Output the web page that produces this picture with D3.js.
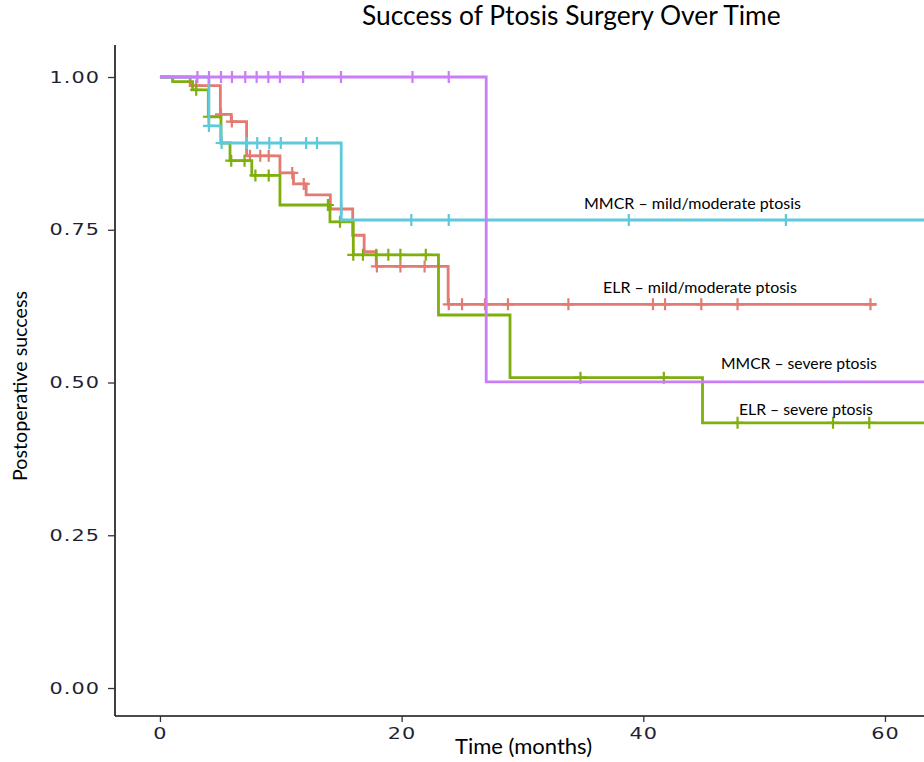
<!DOCTYPE html>
<html><head><meta charset="utf-8">
<script src="https://cdn.jsdelivr.net/npm/d3@7"></script>
<style>body{margin:0;background:#fff;overflow:hidden}svg{display:block}</style>
</head><body><svg id="chart" width="924" height="762"></svg>
<script>
// ---------- data ----------
const groupNames = ["ELR – mild/moderate ptosis", "ELR – severe ptosis", "MMCR – mild/moderate ptosis", "MMCR – severe ptosis"];

const elrMildTimes  = [0, 2.5, 5.0, 5.9, 7.17, 9.93, 11.05, 12.1, 14.1, 15.95, 16.9, 17.9, 23.85];
const elrMildSurv   = [1, 0.986, 0.939, 0.927, 0.871, 0.843, 0.825, 0.807, 0.784, 0.741, 0.714, 0.690, 0.628];
const elrMildCensor = [3, 5.05, 5.95, 7.45, 8.3, 9.0, 10.95, 11.9, 15.0, 17.95, 19.9, 21.9, 23.9, 25.0, 26.9, 28.8, 33.8, 40.8, 41.8, 44.8, 47.8, 58.8];
const elrMildEnd = 59.3;

const elrSevTimes  = [0, 1.05, 2.7, 4.0, 5.05, 5.8, 7.6, 9.93, 14.07, 16.0, 23.05, 28.97, 44.9];
const elrSevSurv   = [1, 0.9925, 0.979, 0.935, 0.892, 0.863, 0.839, 0.7905, 0.763, 0.709, 0.6105, 0.508, 0.434];
const elrSevCensor = [3.0, 4.05, 5.9, 7.0, 7.9, 9.0, 13.9, 14.9, 16.0, 16.8, 17.9, 18.9, 19.9, 22.0, 34.8, 41.7, 47.8, 55.7, 58.7];
const elrSevEnd = 70;

const mmcrMildTimes  = [0, 4.05, 5.05, 15.0];
const mmcrMildSurv   = [1, 0.920, 0.892, 0.766];
const mmcrMildCensor = [4.05, 5.1, 7.2, 8.05, 9.05, 10.0, 12.1, 13.0, 20.8, 23.9, 38.8, 51.8];
const mmcrMildEnd = 70;

const mmcrSevTimes  = [0, 27.0];
const mmcrSevSurv   = [1, 0.501];
const mmcrSevCensor = [3.1, 4.06, 5.05, 5.96, 7.06, 8.0, 8.97, 9.93, 11.85, 14.98, 20.9, 23.9];
const mmcrSevEnd = 70;

const xTickValues = [0, 20, 40, 60];
const yTickValues = [0, 0.25, 0.5, 0.75, 1];
const yTickLabels = ["0.00", "0.25", "0.50", "0.75", "1.00"];

const titleText = "Success of Ptosis Surgery Over Time";
const xTitle = "Time (months)";
const yTitle = "Postoperative success";

// ---------- styling / layout ----------
const colors = ["#E27B72", "#7FAF0C", "#5EC9D9", "#C97DF8"];
const labelLayout = [ // left x, baseline y, target width (px)
  {x: 603, y: 293, w: 194},
  {x: 739, y: 415, w: 134},
  {x: 584, y: 209, w: 217},
  {x: 721, y: 369, w: 156}
];

const series = [
  {times: elrMildTimes, surv: elrMildSurv, censor: elrMildCensor, end: elrMildEnd},
  {times: elrSevTimes, surv: elrSevSurv, censor: elrSevCensor, end: elrSevEnd},
  {times: mmcrMildTimes, surv: mmcrMildSurv, censor: mmcrMildCensor, end: mmcrMildEnd},
  {times: mmcrSevTimes, surv: mmcrSevSurv, censor: mmcrSevCensor, end: mmcrSevEnd}
];

const svg = d3.select("#chart");
const plotLeft = 115, plotRight = 924, plotTop = 45, plotBottom = 716;

const x = d3.scaleLinear().domain([-3.72, 63.23]).range([plotLeft, plotRight]);
const y = d3.scaleLinear().domain([-0.0458, 1.0524]).range([plotBottom, plotTop]);

function fit(t, w) {
  const l = t.node().getComputedTextLength();
  const fs = parseFloat(t.attr("font-size"));
  t.attr("font-size", (fs * w / l).toFixed(2));
}

svg.append("defs").append("clipPath").attr("id", "clip")
  .append("rect").attr("x", plotLeft).attr("y", plotTop - 10).attr("width", plotRight - plotLeft).attr("height", plotBottom - plotTop + 10);

const g = svg.append("g").attr("clip-path", "url(#clip)");

const line = d3.line().x(d => x(d[0])).y(d => y(d[1])).curve(d3.curveStepAfter);

series.forEach((s, i) => {
  const pts = s.times.map((t, k) => [t, s.surv[k]]);
  pts.push([s.end, s.surv[s.surv.length - 1]]);
  g.append("path").attr("d", line(pts))
    .attr("fill", "none").attr("stroke", colors[i]).attr("stroke-width", 2.8);
  const survAt = t => { let v = s.surv[0]; s.times.forEach((tt, k) => { if (tt <= t) v = s.surv[k]; }); return v; };
  g.selectAll(null).data(s.censor).enter().append("path")
    .attr("transform", d => `translate(${x(d)},${y(survAt(d))})`)
    .attr("d", "M-6,0H6M0,-6V6")
    .attr("stroke", colors[i]).attr("stroke-width", 2.2).attr("fill", "none");
});

// axes
const xAxis = svg.append("g").attr("transform", `translate(0,${plotBottom})`)
  .call(d3.axisBottom(x).tickValues(xTickValues).tickSize(6).tickPadding(6).tickFormat(d3.format("d")));
const yAxis = svg.append("g").attr("transform", `translate(${plotLeft},0)`)
  .call(d3.axisLeft(y).tickValues(yTickValues).tickSize(7).tickPadding(6).tickFormat(d => yTickLabels[yTickValues.indexOf(d)]));
[xAxis, yAxis].forEach(a => {
  a.select(".domain").attr("stroke", "#111").attr("stroke-width", 1.6);
  a.selectAll(".tick line").attr("stroke", "#333").attr("stroke-width", 1.3);
  a.selectAll(".tick text").attr("fill", "#1f1f36").attr("font-family", "DejaVu Sans, Verdana, sans-serif")
    .attr("font-size", 16).style("letter-spacing", "0.8px");
});
xAxis.selectAll(".tick text").attr("transform", "scale(1.3,1)");
yAxis.selectAll(".tick text").attr("x", 0).attr("transform", "translate(-15,0) scale(1.3,1)");
yAxis.select(".domain").attr("d", `M0,${plotTop}V${plotBottom}`);
xAxis.select(".domain").attr("d", `M${plotLeft},0H${plotRight}`);

// group labels
series.forEach((s, i) => {
  const L = labelLayout[i];
  const t = svg.append("text").attr("x", L.x).attr("y", L.y)
    .attr("font-family", "Lato, 'Open Sans', sans-serif").attr("font-size", 14).attr("fill", "#000")
    .text(groupNames[i]);
  fit(t, L.w);
});

// titles
const tt = svg.append("text").attr("x", 362).attr("y", 25)
  .attr("font-family", "Lato, 'Open Sans', sans-serif").attr("font-size", 23).attr("fill", "#000").text(titleText);
fit(tt, 419);
const xt = svg.append("text").attr("x", 455).attr("y", 754)
  .attr("font-family", "Lato, 'Open Sans', sans-serif").attr("font-size", 18).attr("fill", "#000").text(xTitle);
fit(xt, 137);
const yt = svg.append("text").attr("transform", "translate(27,386) rotate(-90)").attr("text-anchor", "middle")
  .attr("font-family", "Lato, 'Open Sans', sans-serif").attr("font-size", 18).attr("fill", "#000").text(yTitle);
fit(yt, 190);
</script>
</body></html>
